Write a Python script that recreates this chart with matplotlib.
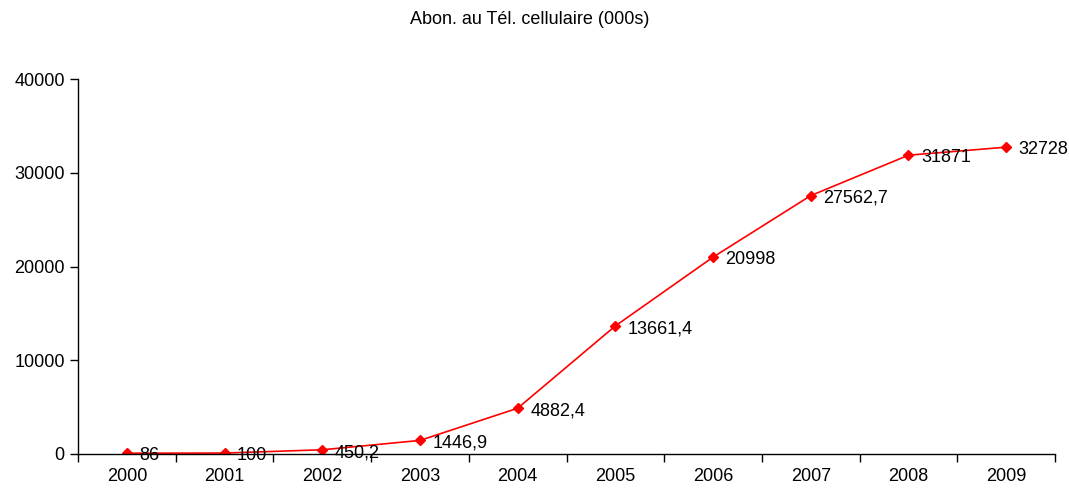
import matplotlib
matplotlib.use("Agg")
import matplotlib.pyplot as plt
from matplotlib.ticker import FixedLocator, NullFormatter

years = ["2000", "2001", "2002", "2003", "2004", "2005", "2006", "2007", "2008", "2009"]
values = [86, 100, 450.2, 1446.9, 4882.4, 13661.4, 20998, 27562.7, 31871, 32728]
labels = ["86", "100", "450,2", "1446,9", "4882,4", "13661,4", "20998", "27562,7", "31871", "32728"]
title = "Abon. au Tél. cellulaire (000s)"

plt.rcParams['font.family'] = ['Liberation Sans', 'DejaVu Sans']

fig = plt.figure(figsize=(10.69, 4.88), dpi=100)
ax = fig.add_axes([78/1069, 34/488, (1055-78)/1069, (454-79)/488])

x = list(range(len(years)))
ax.plot(x, values, color='#ff0000', lw=1.2, marker='D', ms=5.5, mec='#ff0000', mfc='#ff0000')
for xi, v, lab in zip(x, values, labels):
    ax.annotate(lab, (xi, v), xytext=(9, -2), textcoords='offset points',
                ha='left', va='center', fontsize=13, color='black')

ax.set_xlim(-0.5, len(years) - 0.5)
ax.set_ylim(0, 40000)
ax.set_yticks([0, 10000, 20000, 30000, 40000])
ax.set_xticks(x)
ax.set_xticklabels(years)
ax.xaxis.set_minor_locator(FixedLocator([i - 0.5 for i in range(len(years) + 1)]))
ax.xaxis.set_minor_formatter(NullFormatter())
ax.tick_params(axis='x', which='major', length=0, labelsize=13, pad=10)
ax.tick_params(axis='x', which='minor', length=6, width=1, direction='out')
ax.tick_params(axis='y', length=6, width=1, labelsize=13, direction='out')
for s in ['top', 'right']:
    ax.spines[s].set_visible(False)
for s in ['left', 'bottom']:
    ax.spines[s].set_linewidth(1)

fig.text(530/1069, 1 - 20/488, title, ha='center', va='center', fontsize=13)

fig.savefig("out.png", dpi=100)
